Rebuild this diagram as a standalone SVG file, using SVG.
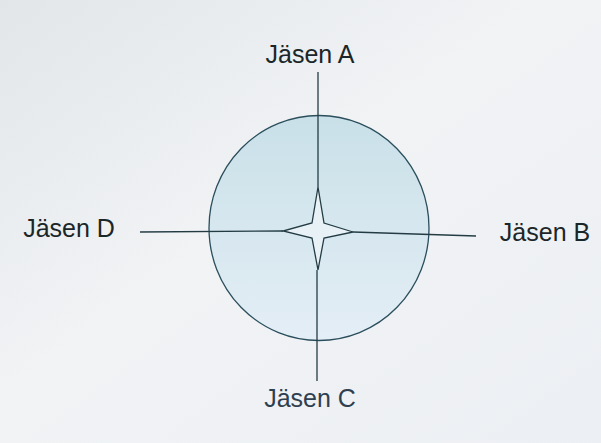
<svg xmlns="http://www.w3.org/2000/svg" width="601" height="443" viewBox="0 0 601 443">
  <defs>
    <linearGradient id="bg" x1="0" y1="0" x2="1" y2="1">
      <stop offset="0" stop-color="#e2e6e9"/>
      <stop offset="0.45" stop-color="#f1f3f5"/>
      <stop offset="1" stop-color="#eceff3"/>
    </linearGradient>
    <linearGradient id="disc" x1="0" y1="0" x2="0" y2="1">
      <stop offset="0" stop-color="#c9e0e8"/>
      <stop offset="1" stop-color="#e4eef6"/>
    </linearGradient>
    <style>
      .lbl { font-family: "Liberation Sans", Arial, sans-serif; font-size: 25px; fill: #1b2628; text-anchor: middle; }
      .lblc { fill: #2e4050; }
      .ln { stroke: #233c44; stroke-width: 1.3; fill: none; }
    </style>
  </defs>
  <rect width="601" height="443" fill="url(#bg)"/>
  <g id="circle">
    <ellipse cx="319" cy="228" rx="110" ry="112.5" fill="url(#disc)" stroke="#2a4e5c" stroke-width="1.3"/>
  </g>
  <g id="connectors">
    <line class="ln" x1="318" y1="72" x2="318" y2="187"/>
    <line class="ln" x1="317" y1="270" x2="317" y2="381" stroke="#2d4a60"/>
    <line class="ln" x1="140" y1="232" x2="283" y2="231"/>
    <line class="ln" x1="353" y1="232" x2="476" y2="236"/>
  </g>
  <g id="star">
    <path d="M318,187 L324,223 L353,232 L324,238 L318,270 L312,238 L283,231 L312,223 Z" fill="#e8f1f6" stroke="#233c44" stroke-width="1.3" stroke-linejoin="miter"/>
  </g>
  <g id="jasen-a"><text class="lbl" x="310" y="63">Jäsen A</text></g>
  <g id="jasen-b"><text class="lbl" x="545" y="241">Jäsen B</text></g>
  <g id="jasen-c"><text class="lbl lblc" x="310" y="407">Jäsen C</text></g>
  <g id="jasen-d"><text class="lbl" x="69" y="237">Jäsen D</text></g>
</svg>
